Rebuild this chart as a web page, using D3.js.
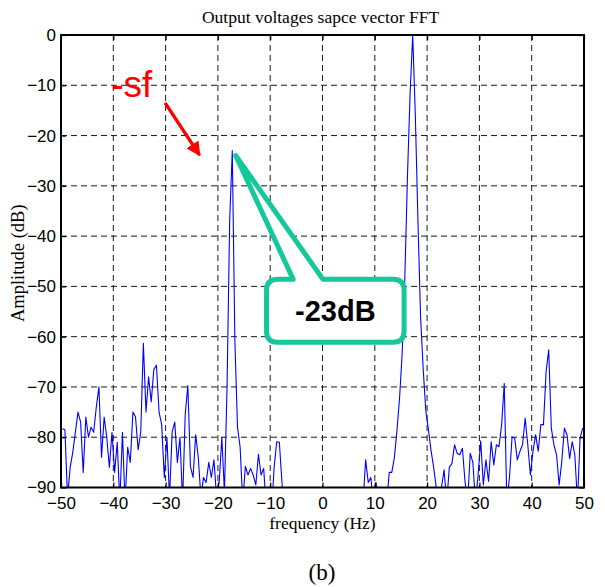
<!DOCTYPE html>
<html>
<head>
<meta charset="utf-8">
<script src="https://cdn.jsdelivr.net/npm/d3@7"></script>
<style>
  html, body { margin: 0; padding: 0; background: #fff; }
  svg { display: block; }
</style>
</head>
<body>
<svg id="chart" width="605" height="587"></svg>
<script>
// Spectrum of the output voltage space vector: bins start at -49.75 Hz, 0.5 Hz apart
const freqStart = -49.75;
const freqStep = 0.5;
const amplitudeDb = [
  -78.3, -78.5, -92, -86, -83, -79, -75, -77, -87, -76,
  -80, -78, -79, -74, -70, -84, -76, -80, -86, -79,
  -87, -81, -93, -79, -93, -82, -85, -75, -76, -82.5,
  -79, -61.3, -75, -68, -73, -66.5, -65.7, -75, -77.5, -88,
  -80, -92, -79, -77, -85, -80, -93, -75.5, -69.7, -85.8,
  -88, -79.5, -84, -92, -88, -89, -85, -88, -84.5, -92,
  -89, -80, -91, -70, -37, -23, -61, -78, -82, -93,
  -85.8, -87.5, -86.2, -87.5, -89.5, -83.4, -87.5, -86.2, -94, -95,
  -95, -86, -80.9, -81, -89, -95, -95, -95, -95, -95,
  -95, -95, -95, -95, -95, -95, -95, -95, -95, -95,
  -95, -95, -95, -95, -95, -95, -95, -95, -95, -95,
  -95, -95, -95, -95, -95, -93, -84.5, -89, -88, -94,
  -89, -95, -95, -95, -94, -87, -87, -84, -78.5, -72,
  -63, -48, -28, -11.6, 0, -16, -37, -56, -66.4, -74.7,
  -78.5, -82.6, -86, -90, -93, -90, -86.5, -93, -86, -85.2,
  -81.5, -83.2, -83.5, -82.2, -88.8, -93, -83.2, -85, -93, -87.5,
  -80.7, -89.5, -84.5, -88.8, -80.9, -85.5, -81.5, -81.9, -77.5, -69.3,
  -93, -88, -79.9, -80.2, -84.5, -82.8, -81.5, -76.2, -81.5, -87.5,
  -82.8, -79.5, -82.8, -77.5, -77.5, -67, -62.6, -78.2, -81.5, -83.5,
  -89.5, -84.8, -78.2, -79.5, -84.2, -80.9, -83.5, -93, -80.2, -78.2
];
const freqs = amplitudeDb.map((_, i) => freqStart + i * freqStep);

const xTicks = [-50, -40, -30, -20, -10, 0, 10, 20, 30, 40, 50];
const yTicks = [0, -10, -20, -30, -40, -50, -60, -70, -80, -90];

const titleText = "Output voltages sapce vector FFT";
const xLabel = "frequency (Hz)";
const yLabel = "Amplitude  (dB)";
const captionText = "(b)";
const sfText = "-sf";
const peakLabel = "-23dB";
const sidebandPeak = { f: -17.25, db: -23 };

const svg = d3.select("#chart");
const W = 605, H = 587;
const plot = { left: 61, right: 584, top: 35, bottom: 487.5 };

svg.append("rect").attr("width", W).attr("height", H).attr("fill", "#fff");

const x = d3.scaleLinear().domain([-50, 50]).range([plot.left, plot.right]);
const y = d3.scaleLinear().domain([-90, 0]).range([plot.bottom, plot.top]);

// dashed grid
const grid = svg.append("g").attr("stroke", "#1a1a1a").attr("stroke-width", 1)
  .attr("stroke-dasharray", "6,4").attr("fill", "none");
xTicks.slice(1, -1).forEach(t => {
  grid.append("line").attr("x1", x(t)).attr("x2", x(t))
    .attr("y1", plot.top).attr("y2", plot.bottom);
});
yTicks.slice(1, -1).forEach(t => {
  grid.append("line").attr("x1", plot.left).attr("x2", plot.right)
    .attr("y1", y(t)).attr("y2", y(t));
});

// spectrum trace
svg.append("clipPath").attr("id", "plotClip").append("rect")
  .attr("x", plot.left).attr("y", plot.top)
  .attr("width", plot.right - plot.left).attr("height", plot.bottom - plot.top);

const line = d3.line().x((d, i) => x(freqs[i])).y(d => y(d));
svg.append("path")
  .datum(amplitudeDb)
  .attr("clip-path", "url(#plotClip)")
  .attr("fill", "none")
  .attr("stroke", "#0000ff")
  .attr("stroke-width", 1.1)
  .attr("stroke-linejoin", "round")
  .attr("d", line);

// axes with inward ticks on all four sides
const axisStyle = g => {
  g.select(".domain").remove();
  g.selectAll(".tick line").attr("stroke", "#000").attr("stroke-width", 1.2);
  g.selectAll(".tick text").attr("font-family", "Liberation Sans, Arial, sans-serif")
    .attr("font-size", 17).attr("fill", "#000");
};
svg.append("g").attr("transform", `translate(0,${plot.bottom})`)
  .call(d3.axisBottom(x).tickValues(xTicks).tickSize(-5).tickPadding(9))
  .call(axisStyle);
svg.append("g").attr("transform", `translate(0,${plot.top})`)
  .call(d3.axisTop(x).tickValues(xTicks).tickSize(-5).tickFormat(""))
  .call(axisStyle);
svg.append("g").attr("transform", `translate(${plot.left},0)`)
  .call(d3.axisLeft(y).tickValues(yTicks).tickSize(-5).tickPadding(5))
  .call(axisStyle);
svg.append("g").attr("transform", `translate(${plot.right},0)`)
  .call(d3.axisRight(y).tickValues(yTicks).tickSize(-5).tickFormat(""))
  .call(axisStyle);

svg.append("rect")
  .attr("x", plot.left).attr("y", plot.top)
  .attr("width", plot.right - plot.left).attr("height", plot.bottom - plot.top)
  .attr("fill", "none").attr("stroke", "#000").attr("stroke-width", 2);

// titles
const serif = "Liberation Serif, Times New Roman, serif";
svg.append("text").attr("x", (plot.left + plot.right) / 2 - 2).attr("y", 23)
  .attr("text-anchor", "middle").attr("font-family", serif).attr("font-size", 17.5)
  .text(titleText);
svg.append("text").attr("x", (plot.left + plot.right) / 2).attr("y", 529)
  .attr("text-anchor", "middle").attr("font-family", serif).attr("font-size", 17.5)
  .text(xLabel);
svg.append("text")
  .attr("transform", `translate(24,${(plot.top + plot.bottom) / 2 + 2}) rotate(-90)`)
  .attr("text-anchor", "middle").attr("font-family", serif).attr("font-size", 18.5)
  .text(yLabel);
svg.append("text").attr("x", 322).attr("y", 580)
  .attr("text-anchor", "middle").attr("font-family", serif).attr("font-size", 23)
  .text(captionText);

// "-sf" marker with red arrow
svg.append("text").attr("x", x(-40.4)).attr("y", y(-12.3))
  .attr("font-family", "Liberation Sans, Arial, sans-serif").attr("font-size", 37)
  .attr("fill", "#ff0000").text(sfText);

const defs = svg.append("defs");
defs.append("marker").attr("id", "redHead")
  .attr("viewBox", "0 0 10 10").attr("refX", 9).attr("refY", 5)
  .attr("markerWidth", 4.2).attr("markerHeight", 4.2).attr("orient", "auto")
  .attr("markerUnits", "strokeWidth")
  .append("path").attr("d", "M0,0 L10,5 L0,10 Z").attr("fill", "#ff0000");
svg.append("line")
  .attr("x1", x(-30.1)).attr("y1", y(-13.5))
  .attr("x2", x(-23.5)).attr("y2", y(-23.9))
  .attr("stroke", "#ff0000").attr("stroke-width", 3.4)
  .attr("marker-end", "url(#redHead)");

// callout pointing at the sideband peak
const tipX = x(sidebandPeak.f) + 3.5, tipY = y(sidebandPeak.db) + 5;
const bx0 = x(-10.7), bx1 = x(15.6), by0 = y(-48.6), by1 = y(-61.1);
const nx0 = x(-5.6), nx1 = x(0.1);
const r = 11;
const callout = d3.path();
callout.moveTo(bx0 + r, by0);
callout.lineTo(nx0, by0);
callout.lineTo(tipX, tipY);
callout.lineTo(nx1, by0);
callout.lineTo(bx1 - r, by0);
callout.quadraticCurveTo(bx1, by0, bx1, by0 + r);
callout.lineTo(bx1, by1 - r);
callout.quadraticCurveTo(bx1, by1, bx1 - r, by1);
callout.lineTo(bx0 + r, by1);
callout.quadraticCurveTo(bx0, by1, bx0, by1 - r);
callout.lineTo(bx0, by0 + r);
callout.quadraticCurveTo(bx0, by0, bx0 + r, by0);
callout.closePath();
svg.append("path").attr("d", callout.toString())
  .attr("fill", "#fff").attr("stroke", "#14c89c").attr("stroke-width", 5)
  .attr("stroke-linejoin", "round");
svg.append("text").attr("x", (bx0 + bx1) / 2).attr("y", by1 - 21)
  .attr("text-anchor", "middle").attr("font-family", "Liberation Sans, Arial, sans-serif")
  .attr("font-weight", "bold").attr("font-size", 29).attr("fill", "#000")
  .text(peakLabel);
</script>
</body>
</html>
